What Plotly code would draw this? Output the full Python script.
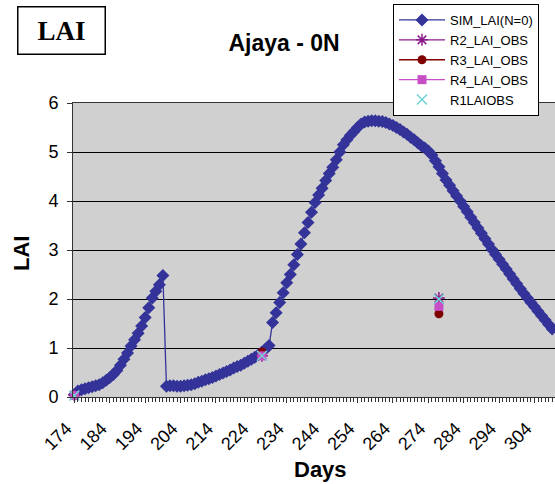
import plotly.graph_objects as go

days = list(range(174, 311))
sim_lai = [
    0.05, 0.12, 0.15, 0.17, 0.19, 0.21, 0.23, 0.25, 0.29, 0.34,   # 174-183
    0.40, 0.46, 0.54, 0.65, 0.77, 0.90, 1.04, 1.17, 1.30, 1.45,   # 184-193
    1.62, 1.82, 2.02, 2.16, 2.29, 2.48,                           # 194-199
    0.22, 0.23, 0.23, 0.22, 0.22, 0.23, 0.24, 0.25, 0.27, 0.30,   # 200-209
    0.32, 0.35, 0.37, 0.40, 0.43, 0.46, 0.49, 0.52, 0.55, 0.59,   # 210-219
    0.62, 0.65, 0.69, 0.73, 0.77, 0.81, 0.86, 0.92, 0.98, 1.05,   # 220-229
    1.52, 1.72, 1.93, 2.13, 2.33, 2.50, 2.70, 2.91, 3.12, 3.35,   # 230-239
    3.56, 3.77, 3.97, 4.12, 4.26, 4.42, 4.56, 4.69, 4.84, 5.00,   # 240-249
    5.15, 5.25, 5.34, 5.42, 5.50, 5.57, 5.61, 5.63, 5.64, 5.64,   # 250-259
    5.63, 5.62, 5.60, 5.57, 5.54, 5.50, 5.46, 5.41, 5.36, 5.30,   # 260-269
    5.25, 5.19, 5.13, 5.08, 5.02, 4.94, 4.82, 4.70, 4.56, 4.43,   # 270-279
    4.32, 4.21, 4.10, 4.00, 3.89, 3.78, 3.67, 3.56, 3.45, 3.34,   # 280-289
    3.23, 3.12, 3.01, 2.91, 2.81, 2.71, 2.61, 2.51, 2.41, 2.31,   # 290-299
    2.21, 2.11, 2.02, 1.93, 1.84, 1.75, 1.66, 1.57, 1.48, 1.39,   # 300-309
    1.31,                                                         # 310
]

obs_days = [174, 227, 277]
r2_obs = [0.03, 0.84, 2.02]
r3_obs = [0.03, 0.92, 1.70]
r4_obs = [0.03, 0.84, 1.85]
r1_obs = [0.03, 0.84, 2.00]

tick_days = list(range(174, 305, 10))
tick_text = [str(d) for d in tick_days]


def with_gaps(xs, ys):
    """Blank cells between observation dates, so no connecting line is drawn."""
    gx, gy = [], []
    for i, (x, y) in enumerate(zip(xs, ys)):
        if i:
            gx.append(x)
            gy.append(None)
        gx.append(x)
        gy.append(y)
    return gx, gy


AX_L, AX_T, AX_B = 73, 103, 397
PW, PH = 555 - AX_L, AX_B - AX_T


def px(x):
    return (x - AX_L) / PW


def py(y):
    return (AX_B - y) / PH


fig = go.Figure()
fig.add_trace(go.Scatter(
    x=days, y=sim_lai, name="SIM_LAI(N=0)", mode="lines+markers",
    line=dict(color="#333399", width=1.3),
    marker=dict(symbol="diamond", size=10, color="#333399"),
    cliponaxis=False,
))
gx, gy = with_gaps(obs_days, r2_obs)
fig.add_trace(go.Scatter(
    x=gx, y=gy, name="R2_LAI_OBS", mode="lines+markers", connectgaps=False,
    line=dict(color="#8B1A8B", width=1.3),
    marker=dict(symbol="asterisk-open", size=10, color="#8B1A8B", line=dict(width=1.5, color="#8B1A8B")),
    cliponaxis=False,
))
gx, gy = with_gaps(obs_days, r3_obs)
fig.add_trace(go.Scatter(
    x=gx, y=gy, name="R3_LAI_OBS", mode="lines+markers", connectgaps=False,
    line=dict(color="#800000", width=1.3),
    marker=dict(symbol="circle", size=9, color="#800000"),
    cliponaxis=False,
))
gx, gy = with_gaps(obs_days, r4_obs)
fig.add_trace(go.Scatter(
    x=gx, y=gy, name="R4_LAI_OBS", mode="lines+markers", connectgaps=False,
    line=dict(color="#C64FC6", width=1.3),
    marker=dict(symbol="square", size=9, color="#C64FC6"),
    cliponaxis=False,
))
fig.add_trace(go.Scatter(
    x=obs_days, y=r1_obs, name="R1LAIOBS", mode="markers",
    marker=dict(symbol="x-thin-open", size=10, color="#6ED3D3", line=dict(width=1.5, color="#6ED3D3")),
    cliponaxis=False,
))

fig.update_layout(
    width=555, height=484,
    margin=dict(l=AX_L, r=0, t=AX_T, b=484 - AX_B, autoexpand=False),
    paper_bgcolor="white",
    plot_bgcolor="#D0D0D0",
    font=dict(family="Arial, Liberation Sans, sans-serif", color="black"),
    title=dict(text="<b>Ajaya - 0N</b>", x=284 / 555, xref="container", xanchor="center",
               y=1 - 43 / 484, yref="container", yanchor="middle",
               font=dict(size=23, family="Arial, Liberation Sans, sans-serif")),
    showlegend=True,
    legend=dict(
        x=px(393), xanchor="left", y=py(4), yanchor="top",
        bgcolor="white", bordercolor="black", borderwidth=1,
        font=dict(size=13, family="Arial, Liberation Sans, sans-serif"),
        tracegroupgap=0, itemwidth=46,
    ),
    xaxis=dict(
        range=[173.6, 309.8], tickmode="array", tickvals=tick_days, ticktext=tick_text,
        tickangle=-45, tickfont=dict(size=18), showgrid=False, zeroline=False, automargin=False,
        showline=True, linecolor="#333333", linewidth=1, mirror=True,
        ticks="outside", ticklen=5, tickcolor="#333333",
        ticklabelshift=-8, ticklabelstandoff=8,
        minor=dict(dtick=1, tick0=174, ticks="outside", ticklen=4, tickcolor="#333333", showgrid=False),
    ),
    yaxis=dict(
        range=[0, 6], dtick=1, tickfont=dict(size=18), showgrid=True, gridcolor="black", gridwidth=1,
        zeroline=False, showline=True, linecolor="#333333", linewidth=1, mirror=True, automargin=False,
        ticks="outside", ticklen=5, tickcolor="#333333", ticklabelstandoff=5,
    ),
    annotations=[
        dict(text="<b>LAI</b>", x=px(61), y=py(30), xref="paper", yref="paper",
             xanchor="center", yanchor="middle", showarrow=False,
             font=dict(size=27, family="Liberation Serif, Times New Roman, serif"),
             bordercolor="black", borderwidth=1.5, borderpad=0, width=86, height=46,
             bgcolor="white"),
        dict(text="<b>Days</b>", x=px(320), y=py(469), xref="paper", yref="paper",
             xanchor="center", yanchor="middle", showarrow=False,
             font=dict(size=22)),
        dict(text="<b>LAI</b>", x=px(21), y=py(254), xref="paper", yref="paper",
             xanchor="center", yanchor="middle", showarrow=False, textangle=-90,
             font=dict(size=22)),
    ],
)

fig.write_html(
    "out.html",
    config={"displayModeBar": False},
    post_script="document.body.style.margin='0';document.body.style.overflow='hidden';",
)
